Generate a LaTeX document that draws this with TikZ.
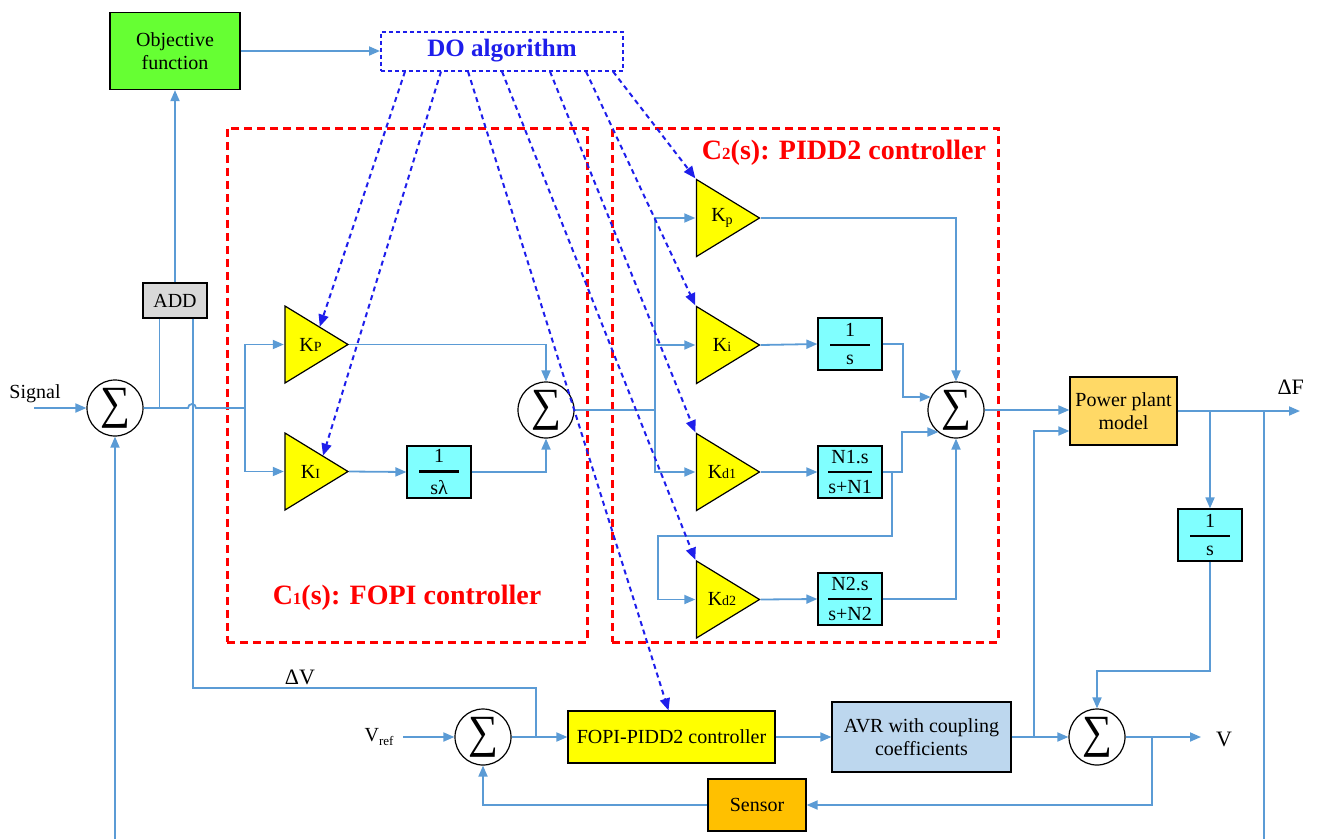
\documentclass[tikz,border=0pt]{standalone}
\usepackage{amsmath}
\usepackage{fontspec}
\setmainfont{Liberation Serif}
\usetikzlibrary{arrows.meta,calc}

\definecolor{lineblue}{RGB}{91,155,213}
\definecolor{doblue}{RGB}{30,30,235}
\definecolor{objgreen}{RGB}{102,255,51}
\definecolor{addgray}{RGB}{217,217,217}
\definecolor{gainyellow}{RGB}{255,255,0}
\definecolor{fraccyan}{RGB}{128,255,255}
\definecolor{plantorange}{RGB}{255,217,102}
\definecolor{avrblue}{RGB}{189,215,238}
\definecolor{sensororange}{RGB}{255,192,0}
\definecolor{boxred}{RGB}{255,0,0}

% transfer-function fraction with a heavy bar
\newcommand{\blkfrac}[2]{$\genfrac{}{}{2.4pt}{0}{\makebox[40pt]{#1}}{\mbox{#2}}$}
% small index set on the baseline
\newcommand{\smallidx}[1]{{\fontsize{14}{14}\selectfont #1}}
% summation sign of a summing junction (zero width so the circle keeps its size)
\newcommand{\sumsign}{\makebox[0pt]{\resizebox*{30pt}{40pt}{∑}}}

\begin{document}
\begin{tikzpicture}[x=1pt,y=-1pt,
  font=\fontsize{20}{23}\selectfont,
  line/.style={draw=lineblue, line width=1.8pt},
  arr/.style={line, -{Triangle[length=11pt,width=9pt]}},
  block/.style={draw=black, line width=1.2pt, inner sep=1pt, align=center},
  fracblock/.style={block, fill=fraccyan, minimum width=64pt, minimum height=52pt},
  sumnode/.style={circle, draw=black, line width=1.2pt, minimum size=56pt, inner sep=0pt},
  gain/.style={minimum width=65pt, minimum height=79pt, inner sep=0pt,
    path picture={\draw[fill=gainyellow, line width=1.2pt]
      ([shift={(1pt,-1pt)}]path picture bounding box.north west)
      -- ([xshift=-1pt]path picture bounding box.east)
      -- ([shift={(1pt,1pt)}]path picture bounding box.south west) -- cycle;}},
  doarrow/.style={draw=doblue, line width=2pt, dash pattern=on 5pt off 4pt,
    -{Triangle[length=12pt,width=10pt]}},
  reddash/.style={draw=boxred, line width=3pt, dash pattern=on 8pt off 5pt},
  redlabel/.style={text=boxred, font=\fontsize{28}{30}\selectfont\bfseries},
]
\useasboundingbox (0,0) rectangle (1317,839);

% ---------------- controller frames ----------------
\node[reddash, minimum width=360pt, minimum height=514pt] (c1frame) at (407,385) {};
\node[reddash, minimum width=386pt, minimum height=514pt] (c2frame) at (805,385) {};
\node[redlabel] (c1lab) at (407,598) {C{\fontsize{17}{17}\selectfont 1}(s): FOPI controller};
\node[redlabel] (c2lab) at (844,153) {C{\fontsize{17}{17}\selectfont 2}(s): PIDD2 controller};

% ---------------- optimisation loop ----------------
\node[block, fill=objgreen, minimum width=130pt, minimum height=77pt] (obj) at (175,51) {Objective\\function};
\node[draw=doblue, line width=2pt, dash pattern=on 4pt off 3pt, minimum width=242pt,
  minimum height=39pt, text=doblue, font=\fontsize{25}{28}\selectfont\bfseries] (do) at (502,51) {DO algorithm};
\node[block, fill=addgray, minimum width=64pt, minimum height=35pt] (add) at (175,300.5) {ADD};

% ---------------- frequency loop ----------------
\node (sig) at (35,394) {Signal};
\node[sumnode] (s1) at (115,408) {\sumsign};

\node[gain] (kp1) at (316.5,344.5) {K\smallidx{P}\hspace*{12pt}};
\node[gain] (ki1) at (316.5,471.5) {K\smallidx{I}\hspace*{12pt}};
\node[fracblock] (f1) at (439,472) {\blkfrac{1}{sλ}};
\node[sumnode] (s2) at (546,410) {\sumsign};

\node[gain] (kp2) at (728,218) {K\smallidx{\raisebox{-3pt}{p}}\hspace*{12pt}};
\node[gain] (ki2) at (728,345) {K\smallidx{i}\hspace*{12pt}};
\node[gain] (kd1) at (728,472) {K\smallidx{d1}\hspace*{12pt}};
\node[gain] (kd2) at (728,599.5) {K\smallidx{d2}\hspace*{12pt}};
\node[fracblock] (fi) at (850,344) {\blkfrac{1}{s}};
\node[fracblock] (fn1) at (850,472) {\blkfrac{N1.s}{s+N1}};
\node[fracblock] (fn2) at (850,599) {\blkfrac{N2.s}{s+N2}};
\node[sumnode] (s3) at (956,410) {\sumsign};

\node[block, fill=plantorange, minimum width=107pt, minimum height=68pt] (pp) at (1123.5,411) {Power plant\\model};
\node[fracblock] (fs) at (1210,535) {\blkfrac{1}{s}};
\node[anchor=west, font=\fontsize{22}{24}\selectfont] (dF) at (1274,387) {ΔF};

% ---------------- voltage loop ----------------
\node (vref) at (379,737) {V\raisebox{-4pt}{\fontsize{13}{13}\selectfont ref}};
\node[sumnode] (s5) at (483,737) {\sumsign};
\node[block, fill=gainyellow, minimum width=207pt, minimum height=52pt] (fopi) at (671.5,737) {FOPI-PIDD2 controller};
\node[block, fill=avrblue, minimum width=179pt, minimum height=70pt] (avr) at (921.5,737) {AVR with coupling\\coefficients};
\node[sumnode] (s4) at (1097,737) {\sumsign};
\node[font=\fontsize{22}{24}\selectfont] (vlab) at (1224,739) {V};
\node[block, fill=sensororange, minimum width=98pt, minimum height=52pt] (sensor) at (757,805) {Sensor};
\node[font=\fontsize{22}{24}\selectfont] (dV) at (300,677) {ΔV};

% ---------------- junctions and free ends ----------------
\coordinate (sigin) at (34,408);
\coordinate (fbin) at (115,839);
\coordinate (br1) at (245,408);
\coordinate (dvc) at (536,688);
\coordinate (br2) at (655,410);
\coordinate (j1) at (892,472);
\coordinate (j2) at (658,536);
\coordinate (a1) at (902,432);
\coordinate (a2) at (903,397);
\coordinate (j3) at (1034,737);
\coordinate (j4) at (1210,411);
\coordinate (j5) at (1264,411);
\coordinate (fbout) at (1264,839);
\coordinate (dfo) at (1300,411);
\coordinate (a3) at (1097,671);
\coordinate (j6) at (1152,737);
\coordinate (vout) at (1201,737);
\coordinate (vin) at (403,737);

% ---------------- signal paths ----------------
\draw[arr] (obj.east) -- (do.west);
\draw[arr] (add.north) -- (obj.south);
\draw[arr] (sigin) -- (s1.west);
\draw[arr] (fbin) -- (s1.south);
\draw[line] (s1.east) -- (188,408) arc (180:360:4) -- (br1);
\draw[line] ([xshift=17pt]add.south west) -- ([xshift=17pt]add.south west |- s1.east);
\draw[line] ([xshift=-15pt]add.south east) |- (dvc) -- (dvc |- s5.east);

\draw[arr] (br1) |- (kp1.west);
\draw[arr] (br1) |- (ki1.west);
\draw[arr] (kp1.east) -| (s2.north);
\draw[arr] (ki1.east) -- (f1.west);
\draw[arr] (f1.east) -| (s2.south);

\draw[line] (s2.east) -- (br2);
\draw[arr] (br2) |- (kp2.west);
\draw[arr] (br2) |- (ki2.west);
\draw[arr] (br2) |- (kd1.west);
\draw[arr] (j1) |- (j2) |- (kd2.west);
\draw[arr] (ki2.east) -- (fi.west);
\draw[arr] (kd1.east) -- (fn1.west);
\draw[arr] (kd2.east) -- (fn2.west);
\draw[arr] (kp2.east) -| (s3.north);
\draw[arr] (fi.east) -| (a2) -- (a2 -| s3.152);
\draw[arr] (fn1.east) -| (a1) -- (a1 -| s3.232);
\draw[arr] (fn2.east) -| (s3.south);

\draw[arr] (s3.east) -- (s3.east -| pp.west);
\draw[arr] (j3) |- ([yshift=-20pt]pp.west);
\draw[arr] (pp.east) -- (dfo);
\draw[arr] (j4) -- (fs.north);
\draw[line] (j5) -- (fbout);
\draw[arr] (fs.south) |- (a3) -- (s4.north);

\draw[arr] (vin) -- (s5.west);
\draw[arr] (s5.east) -- (fopi.west);
\draw[arr] (fopi.east) -- (avr.west);
\draw[arr] (avr.east) -- (s4.west);
\draw[arr] (s4.east) -- (vout);
\draw[arr] (j6) |- (sensor.east);
\draw[arr] (sensor.west) -| (s5.south);

% ---------------- parameter tuning links ----------------
\draw[doarrow] ($(do.south west)+(25,0)$) -- ($(kp1.north west)!0.55!(kp1.east)$);
\draw[doarrow] ($(do.south west)+(61,0)$) -- ($(ki1.north west)!0.6!(ki1.east)$);
\draw[doarrow] ($(do.south west)+(88,0)$) -- ([xshift=-3pt]fopi.north);
\draw[doarrow] ($(do.south west)+(122,0)$) -- (kd2.north west);
\draw[doarrow] ($(do.south west)+(170,0)$) -- (kd1.north west);
\draw[doarrow] ($(do.south west)+(206,0)$) -- (ki2.north west);
\draw[doarrow] ($(do.south west)+(233,0)$) -- (kp2.north west);
\end{tikzpicture}
\end{document}
